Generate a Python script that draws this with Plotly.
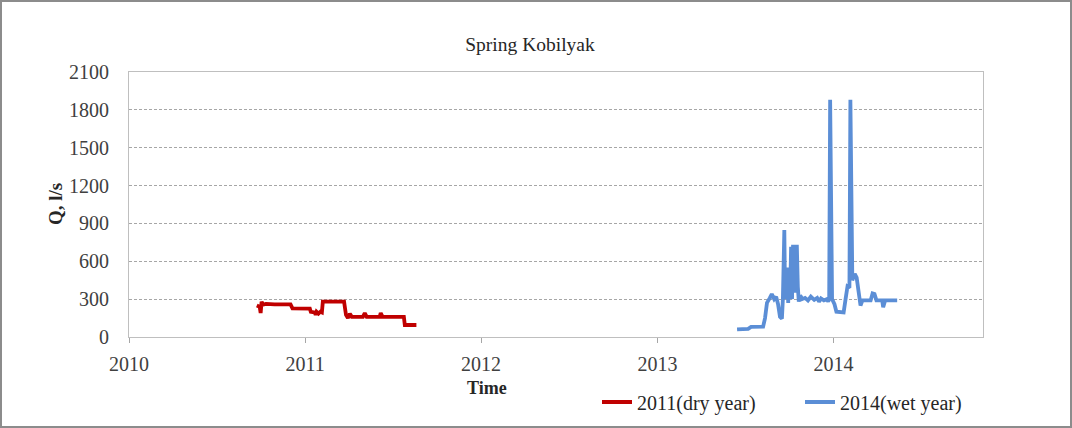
import plotly.graph_objects as go

# ---- data ----
dry_dates = ["2010-09-23", "2010-09-29", "2010-10-01", "2010-10-03", "2010-10-05", "2010-10-12",
             "2010-10-30", "2010-11-20", "2010-12-02", "2010-12-06", "2011-01-11", "2011-01-13",
             "2011-01-21", "2011-01-23", "2011-01-25", "2011-01-29", "2011-02-02", "2011-02-05",
             "2011-02-07", "2011-03-23", "2011-03-27", "2011-03-31", "2011-04-04", "2011-04-08",
             "2011-05-01", "2011-05-05", "2011-05-09", "2011-06-05", "2011-06-07", "2011-06-11",
             "2011-07-25", "2011-07-27", "2011-08-20"]
dry_q = [250, 240, 190, 280, 255, 262,
         258, 262, 258, 227, 225, 200,
         195, 175, 200, 185, 200, 195,
         280, 280, 175, 150, 185, 160,
         160, 190, 160, 160, 190, 160,
         160, 95, 95]

wet_dates = ["2013-06-15", "2013-06-25", "2013-07-08", "2013-07-14", "2013-07-26", "2013-08-08",
             "2013-08-12", "2013-08-16", "2013-08-22", "2013-08-26", "2013-08-31", "2013-09-04",
             "2013-09-08", "2013-09-12", "2013-09-16", "2013-09-18", "2013-09-21", "2013-09-22",
             "2013-09-25", "2013-09-27", "2013-09-29", "2013-10-01", "2013-10-03", "2013-10-05",
             "2013-10-07", "2013-10-09", "2013-10-11", "2013-10-13", "2013-10-15", "2013-10-17",
             "2013-10-19", "2013-10-21", "2013-10-24", "2013-10-28", "2013-11-03", "2013-11-09",
             "2013-11-15", "2013-11-22", "2013-11-28", "2013-12-02", "2013-12-06", "2013-12-12",
             "2013-12-18", "2013-12-21", "2013-12-23", "2013-12-25", "2013-12-29", "2014-01-03",
             "2014-01-07", "2014-01-22", "2014-01-26", "2014-01-30", "2014-02-03", "2014-02-05",
             "2014-02-09", "2014-02-14", "2014-02-18", "2014-02-22", "2014-02-26", "2014-03-02",
             "2014-03-19", "2014-03-23", "2014-03-27", "2014-03-31", "2014-04-12", "2014-04-14",
             "2014-04-18", "2014-05-13"]
wet_q = [60, 62, 65, 80, 82, 82,
         150, 270, 310, 340, 300, 320,
         260, 160, 145, 300, 848, 500,
         300, 550, 270, 480, 300, 715,
         300, 715, 715, 350, 715, 715,
         400, 280, 330, 300, 310, 290,
         320, 295, 310, 280, 305, 290,
         300, 280, 300, 1880, 300, 260,
         200, 195, 300, 400, 390, 1880,
         450, 500, 470, 330, 250, 290,
         290, 345, 340, 290, 290, 235,
         290, 290]

y_ticks = [0, 300, 600, 900, 1200, 1500, 1800, 2100]
x_tick_labels = ["2010", "2011", "2012", "2013", "2014"]
x_tick_vals = [f"{y}-01-01" for y in x_tick_labels]

SERIF = "Liberation Serif, Times New Roman, serif"

fig = go.Figure()
fig.add_trace(go.Scatter(x=dry_dates, y=dry_q, mode="lines", name="2011(dry year)",
                         line=dict(color="#c00000", width=3.8)))
fig.add_trace(go.Scatter(x=wet_dates, y=wet_q, mode="lines", name="2014(wet year)",
                         line=dict(color="#5b8ed6", width=3.8)))

W, H = 1072, 428
L, R, T, B = 129, 983, 72, 337
pw, ph = R - L, B - T

def px_x(p):
    return (p - L) / pw

def px_y(p):
    return (B - p) / ph

fig.update_layout(
    width=W, height=H,
    margin=dict(l=L, r=W - R, t=T, b=H - B, autoexpand=False),
    paper_bgcolor="white", plot_bgcolor="white",
    font=dict(family=SERIF, size=20, color="#404040"),
    title=dict(text="Spring Kobilyak", x=px_x(530), xref="paper", xanchor="center",
               y=1 - 44 / H, yanchor="middle", font=dict(family=SERIF, size=19.5, color="#262626")),
    showlegend=True,
    legend=dict(orientation="h", x=px_x(597), y=px_y(402), xanchor="left", yanchor="middle",
                font=dict(family=SERIF, size=20, color="#262626"),
                entrywidth=158, entrywidthmode="pixels", bgcolor="rgba(0,0,0,0)",
                itemclick=False),
    xaxis=dict(type="date", range=["2010-01-01", "2014-11-07"],
               tickvals=x_tick_vals, ticktext=x_tick_labels,
               ticks="outside", ticklen=5, tickcolor="#a6a6a6",
               showline=True, linecolor="#bfbfbf", linewidth=1, mirror=True,
               showgrid=False, zeroline=False, ticklabelstandoff=4,
               tickfont=dict(family=SERIF, size=20, color="#404040")),
    yaxis=dict(range=[0, 2100], tickvals=y_ticks, ticks="",
               showline=True, linecolor="#bfbfbf", linewidth=1, mirror=True,
               showgrid=True, gridcolor="#a6a6a6", griddash="3px,2px", gridwidth=1,
               zeroline=False, ticklabelstandoff=15,
               tickfont=dict(family=SERIF, size=20, color="#404040")),
    annotations=[
        dict(text="<b>Q, l/s</b>", x=px_x(55), y=px_y(204), xref="paper", yref="paper",
             textangle=-90, showarrow=False, xanchor="center", yanchor="middle",
             font=dict(family=SERIF, size=19, color="#262626")),
        dict(text="<b>Time</b>", x=px_x(487), y=px_y(388), xref="paper", yref="paper",
             showarrow=False, xanchor="center", yanchor="middle",
             font=dict(family=SERIF, size=18, color="#262626")),
    ],
    shapes=[
        dict(type="rect", xref="paper", yref="paper",
             x0=px_x(1), x1=px_x(1071), y0=px_y(427), y1=px_y(1),
             line=dict(color="#8c8c8c", width=2), fillcolor="rgba(0,0,0,0)", layer="below"),
    ],
)

fig.write_html("out.html")
